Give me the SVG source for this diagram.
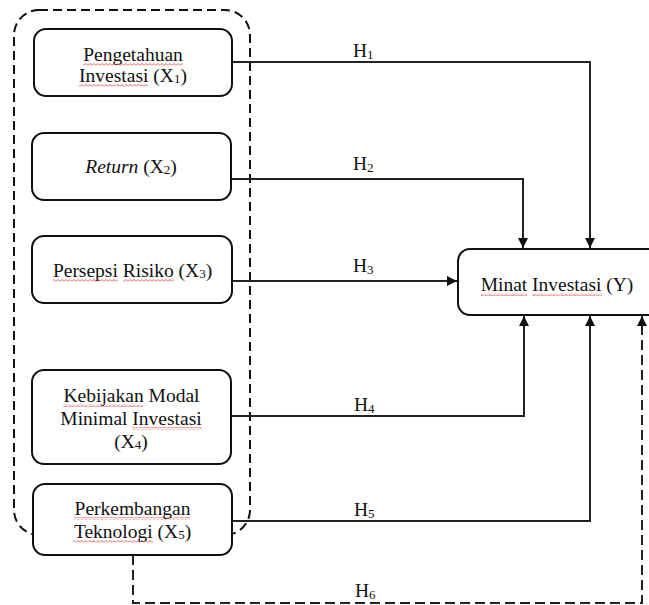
<svg xmlns="http://www.w3.org/2000/svg" width="649" height="605" viewBox="0 0 649 605">
<style>
.box{fill:#fff;stroke:#111;stroke-width:2}
.grp{fill:none;stroke:#111;stroke-width:2;stroke-dasharray:9 5}
.ln{fill:none;stroke:#222;stroke-width:2}
.dash{stroke-dasharray:10 5}
text{font-family:"Liberation Serif","Times New Roman",serif;font-size:19.5px;fill:#111}
.c{text-anchor:middle}
.sub{font-size:13px}
.sq{fill:url(#squig)}
</style>
<defs>
<marker id="arr" markerUnits="userSpaceOnUse" markerWidth="11" markerHeight="11" refX="10" refY="5" orient="auto">
<path d="M0,0 L10,5 L0,10 z" fill="#111"/>
</marker>
<pattern id="squig" patternUnits="userSpaceOnUse" width="4" height="3">
<path d="M0,2.5 L2,0.5 L4,2.5" fill="none" stroke="#e03030" stroke-width="0.8"/>
</pattern>
</defs>
<rect class="grp" x="14" y="10" width="236" height="525" rx="25"/>
<g id="connectors">
<path class="ln" d="M232,62 H590 V248" marker-end="url(#arr)"/>
<path class="ln" d="M231,179 H523 V248" marker-end="url(#arr)"/>
<path class="ln" d="M232,281 H457" marker-end="url(#arr)"/>
<path class="ln" d="M231,416 H524 V316" marker-end="url(#arr)"/>
<path class="ln" d="M232,521 H590 V316" marker-end="url(#arr)"/>
<path class="ln dash" d="M133,555 V603 H642 V316" marker-end="url(#arr)"/>
<text x="353" y="57">H<tspan class="sub" dy="2">1</tspan></text>
<text x="353" y="170">H<tspan class="sub" dy="2">2</tspan></text>
<text x="353" y="272">H<tspan class="sub" dy="2">3</tspan></text>
<text x="354" y="411">H<tspan class="sub" dy="2">4</tspan></text>
<text x="354" y="516">H<tspan class="sub" dy="2">5</tspan></text>
<text x="355" y="597">H<tspan class="sub" dy="2">6</tspan></text>
</g>
<g id="x1">
<rect class="box" x="34" y="29" width="198" height="67" rx="12"/>
<text class="c" x="133" y="61">Pengetahuan</text>
<text class="c" x="133" y="82">Investasi (X<tspan class="sub" dy="1">1</tspan><tspan dy="-1">)</tspan></text>
<rect class="sq" x="83" y="63" width="100" height="3"/>
<rect class="sq" x="79" y="84" width="69" height="3"/>
</g>
<g id="x2">
<rect class="box" x="32" y="133" width="199" height="67" rx="12"/>
<text class="c" x="131" y="173"><tspan font-style="italic">Return</tspan> (X<tspan class="sub" dy="1">2</tspan><tspan dy="-1">)</tspan></text>
</g>
<g id="x3">
<rect class="box" x="32" y="236" width="200" height="67" rx="12"/>
<text class="c" x="132.5" y="277">Persepsi Risiko (X<tspan class="sub" dy="1">3</tspan><tspan dy="-1">)</tspan></text>
<rect class="sq" x="53" y="279" width="65" height="3"/>
<rect class="sq" x="123" y="279" width="51" height="3"/>
</g>
<g id="x4">
<rect class="box" x="32" y="370" width="199" height="94" rx="12"/>
<text class="c" x="131.5" y="402">Kebijakan Modal</text>
<text class="c" x="131" y="425">Minimal Investasi</text>
<text class="c" x="131" y="448">(X<tspan class="sub" dy="1">4</tspan><tspan dy="-1">)</tspan></text>
<rect class="sq" x="63" y="404" width="80" height="3"/>
<rect class="sq" x="132" y="427" width="70" height="3"/>
</g>
<g id="x5">
<rect class="box" x="33" y="484" width="199" height="71" rx="12"/>
<text class="c" x="132.5" y="515">Perkembangan</text>
<text class="c" x="132.5" y="538">Teknologi (X<tspan class="sub" dy="1">5</tspan><tspan dy="-1">)</tspan></text>
<rect class="sq" x="74" y="517" width="116" height="3"/>
<rect class="sq" x="73" y="540" width="80" height="3"/>
</g>
<g id="y">
<rect class="box" x="458" y="249" width="210" height="66" rx="12"/>
<text class="c" x="557" y="291">Minat Investasi (Y)</text>
<rect class="sq" x="481" y="293" width="46" height="3"/>
<rect class="sq" x="532" y="293" width="70" height="3"/>
</g>
</svg>
